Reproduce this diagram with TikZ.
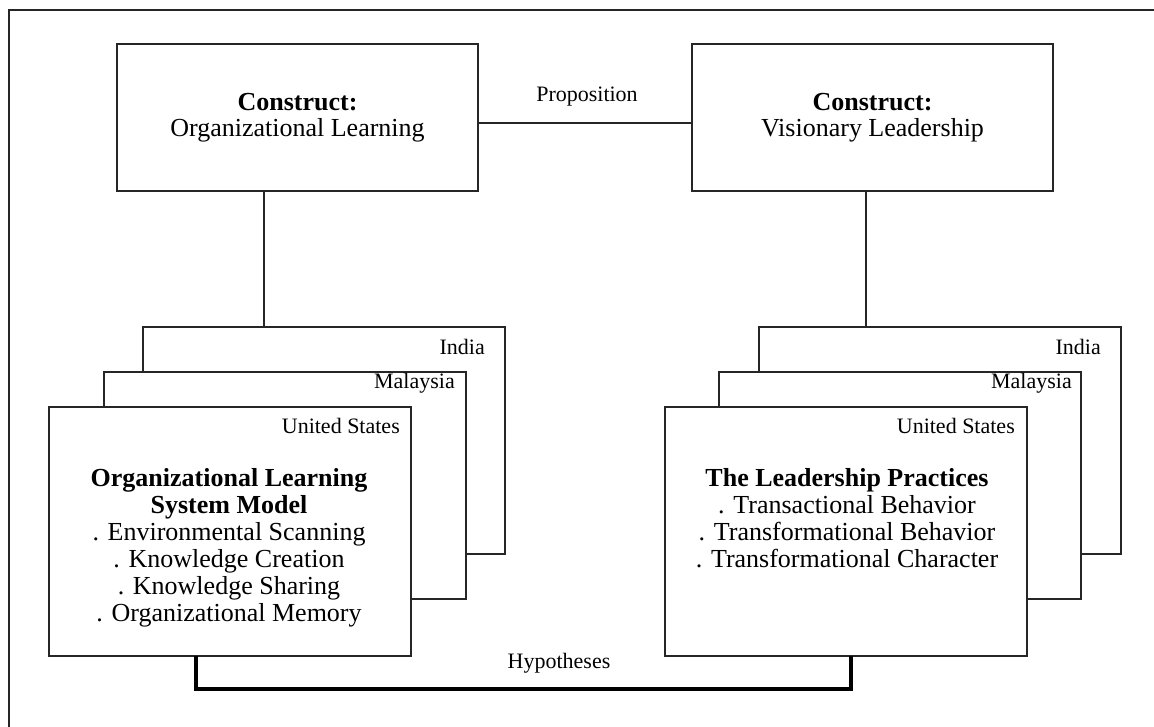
\documentclass[tikz,border=0pt]{standalone}
\usepackage{fontspec}
\setmainfont{Liberation Serif}
\begin{document}
\begin{tikzpicture}[x=1pt,y=-1pt,
  frameline/.style={line width=1.5pt,draw=black!85},
  box/.style={frameline,fill=white,rectangle,inner sep=0pt,outer sep=0pt,anchor=north west},
  conbox/.style={box,minimum width=361pt,minimum height=147pt,align=center,
    font=\fontsize{26}{26}\selectfont},
  cardbox/.style={box,minimum width=362pt,minimum height=227pt},
  usbox/.style={box,minimum width=362pt,minimum height=249pt},
  tag/.style={inner sep=0pt,anchor=east,font=\fontsize{22}{22}\selectfont},
  body/.style={inner sep=0pt,align=center,font=\fontsize{26}{27}\selectfont},
  link/.style={frameline},
  hyp/.style={line width=4.5pt,draw=black,line join=miter}]
\useasboundingbox (0,0) rectangle (1154,727);
% outer frame (open on the right and bottom)
\draw[frameline] (1154,10) -- (9,10) -- (9,727);

% constructs
\node[conbox] (conL) at (117,44) {\textbf{Construct:}\\Organizational Learning};
\node[conbox] (conR) at (692,44) {\textbf{Construct:}\\Visionary Leadership};
\coordinate (prop) at (0,123);
\draw[link] (conL.east |- prop) -- (conR.west |- prop);
\node[inner sep=0pt,font=\fontsize{22}{22}\selectfont] (proptext) at (587,97) {Proposition};

% left stack of country cards
\node[cardbox] (inL) at (143,327) {};
\node[cardbox] (maL) at (104,372) {};
\node[usbox] (usL) at (49,407) {};
\node[tag] (inLt) at (485,347) {India};
\node[tag] (maLt) at (455,383) {Malaysia};
\node[tag] (usLt) at (400,426) {United States};
\node[body] (olsm) at (229,548) {\textbf{Organizational Learning}\\\textbf{System Model}\\. Environmental Scanning\\. Knowledge Creation\\. Knowledge Sharing\\. Organizational Memory};

% right stack of country cards
\node[cardbox] (inR) at (759,327) {};
\node[cardbox] (maR) at (719,372) {};
\node[usbox] (usR) at (665,407) {};
\node[tag] (inRt) at (1101,347) {India};
\node[tag] (maRt) at (1072,383) {Malaysia};
\node[tag] (usRt) at (1015,426) {United States};
\node[body] (tlp) at (847,518) {\textbf{The Leadership Practices}\\. Transactional Behavior\\. Transformational Behavior\\. Transformational Character};

% construct-to-model links
\coordinate (vl) at (264,0);
\coordinate (vr) at (866,0);
\draw[link] (conL.south -| vl) -- (inL.north -| vl);
\draw[link] (conR.south -| vr) -- (inR.north -| vr);

% hypotheses bracket
\coordinate (hl) at (196,689);
\coordinate (hr) at (851,689);
\draw[hyp] (usL.south -| hl) -- (hl) -- (hr) -- (usR.south -| hr);
\node[inner sep=0pt,font=\fontsize{22}{22}\selectfont] (hyptext) at (559,663) {Hypotheses};
\end{tikzpicture}
\end{document}
